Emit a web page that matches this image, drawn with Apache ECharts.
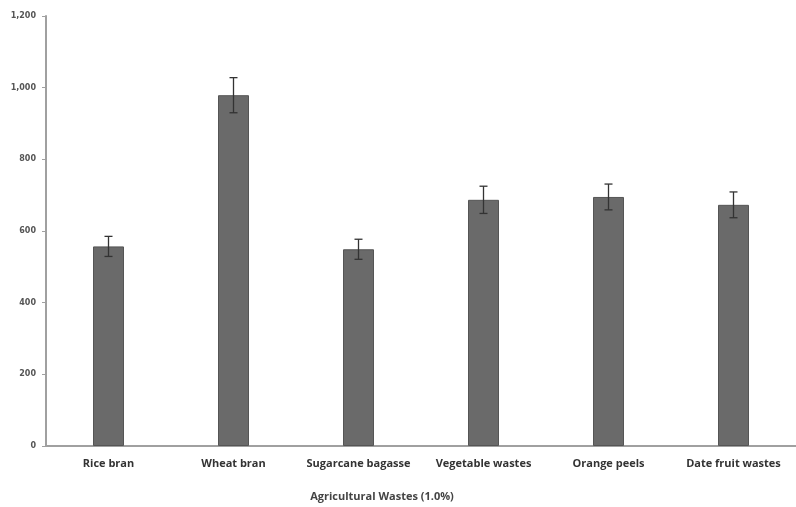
<!DOCTYPE html>
<html>
<head>
<meta charset="utf-8">
<script src="https://cdn.jsdelivr.net/npm/echarts@6/dist/echarts.min.js"></script>
<style>
  html, body { margin: 0; padding: 0; background: #fff; }
  #chart { width: 796px; height: 507px; }
</style>
</head>
<body>
<div id="chart"></div>
<script>
// Agricultural waste substrates and their measured means with error margins
const categories = ['Rice bran', 'Wheat bran', 'Sugarcane bagasse', 'Vegetable wastes', 'Orange peels', 'Date fruit wastes'];
const means = [557, 979, 549, 687, 695, 673];
const errors = [28, 49, 28, 38, 36, 36];
const yTicks = { min: 0, max: 1200, interval: 200 };

const chart = echarts.init(document.getElementById('chart'), null, { renderer: 'canvas' });

const errorData = means.map((m, i) => [i, m - errors[i], m + errors[i]]);

chart.setOption({
  animation: false,
  backgroundColor: '#ffffff',
  grid: { left: 46, right: 0, top: 16, bottom: 56 },
  xAxis: {
    type: 'category',
    data: categories,
    name: 'Agricultural Wastes (1.0%)',
    nameLocation: 'middle',
    nameGap: 45,
    nameTextStyle: { fontFamily: 'Open Sans', fontSize: 11, fontWeight: 'bold', color: '#444', padding: [0, 78, 0, 0] },
    axisLine: { lineStyle: { color: '#a0a0a0', width: 2 } },
    axisTick: { show: false },
    axisLabel: { interval: 0, margin: 12, fontFamily: 'Open Sans', fontSize: 11, fontWeight: 'bold', color: '#333' }
  },
  yAxis: {
    type: 'value',
    min: yTicks.min,
    max: yTicks.max,
    interval: yTicks.interval,
    axisLine: { show: true, lineStyle: { color: '#a0a0a0', width: 2 } },
    axisTick: { show: true, length: 4, lineStyle: { color: '#a0a0a0' } },
    splitLine: { show: false },
    axisLabel: { margin: 10, fontFamily: 'DejaVu Sans', fontSize: 8, fontWeight: 'bold', color: '#555' }
  },
  series: [
    {
      type: 'bar',
      data: means,
      barWidth: 31,
      itemStyle: { color: '#6a6a6a', borderColor: '#555', borderWidth: 1 }
    },
    {
      type: 'custom',
      data: errorData,
      z: 5,
      renderItem: function (params, api) {
        const x = api.value(0);
        const lo = api.coord([x, api.value(1)]);
        const hi = api.coord([x, api.value(2)]);
        const cap = 4;
        const style = { stroke: '#333', lineWidth: 1.3 };
        return {
          type: 'group',
          children: [
            { type: 'line', shape: { x1: hi[0], y1: hi[1], x2: lo[0], y2: lo[1] }, style: style },
            { type: 'line', shape: { x1: hi[0] - cap, y1: hi[1], x2: hi[0] + cap, y2: hi[1] }, style: style },
            { type: 'line', shape: { x1: lo[0] - cap, y1: lo[1], x2: lo[0] + cap, y2: lo[1] }, style: style }
          ]
        };
      },
      encode: { x: 0, y: [1, 2] }
    }
  ]
});
</script>
</body>
</html>
